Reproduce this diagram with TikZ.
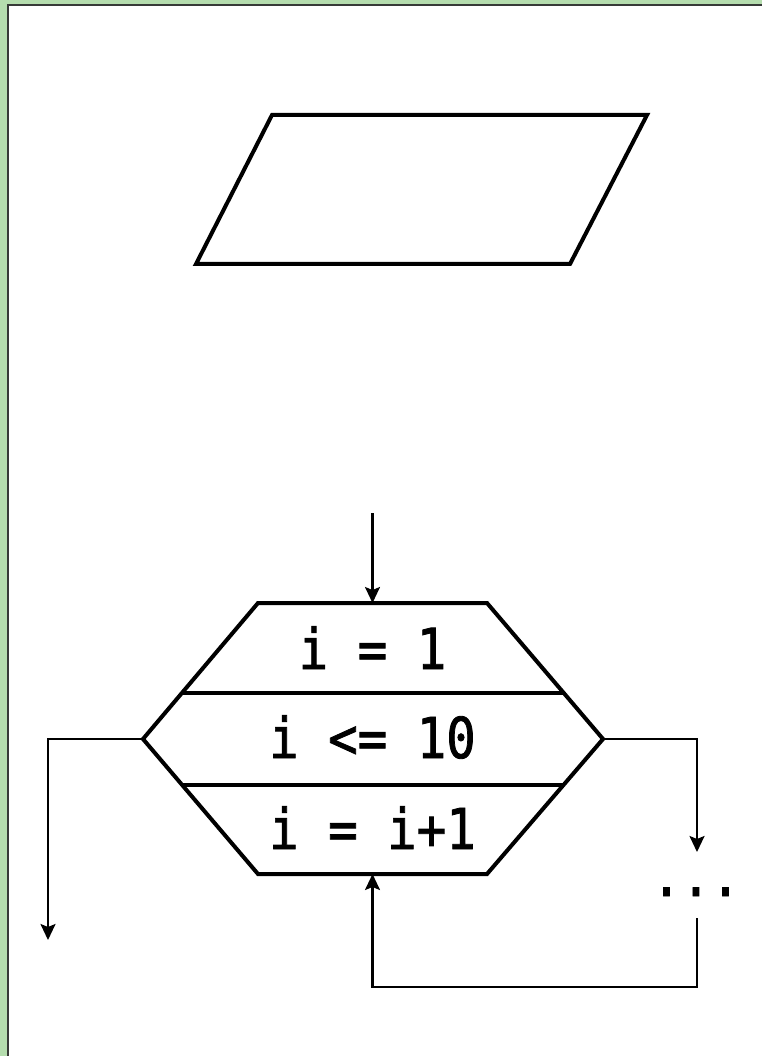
\documentclass[tikz,border=0pt]{standalone}
\usepackage{fontspec}
\usepackage{graphicx}
\newfontfamily\codefont[FakeBold=1.5]{DejaVu Sans Mono}
\usetikzlibrary{arrows.meta,calc}
\definecolor{bggreen}{RGB}{181,221,174}
\definecolor{edgegray}{RGB}{55,58,55}
\tikzset{
  shapeline/.style={line width=4pt, line join=miter},
  conn/.style={line width=2.2pt},
  arr/.style={conn, -{Stealth[length=16pt,width=15pt,inset=3pt]}},
  codetext/.style={anchor=base, inner sep=0pt, font=\codefont\fontsize{49}{49}\selectfont}
}
\newcommand{\tallt}[1]{\scalebox{1}[1.15]{#1}}
\begin{document}
\begin{tikzpicture}[x=1pt,y=-1pt]
\useasboundingbox (0,0) rectangle (762,1056);
% background
\fill[bggreen] (0,0) rectangle (762,1056);
\fill[white] (8,5) rectangle (762,1056);
\draw[edgegray, line width=2pt] (8,1056) -- (8,5) -- (762,5);
% parallelogram
\coordinate (pTL) at (272,115);
\coordinate (pTR) at (647,115);
\coordinate (pBR) at (570,264);
\coordinate (pBL) at (196,264);
\draw[shapeline] (pTL) -- (pTR) -- (pBR) -- (pBL) -- cycle;
% hexagon
\coordinate (hT) at (372.5,603);
\coordinate (hB) at (372.5,874);
\coordinate (hL) at (143,739);
\coordinate (hR) at (603,739);
\coordinate (hTL) at (258,603);
\coordinate (hTR) at (487,603);
\coordinate (hBL) at (258,874);
\coordinate (hBR) at (487,874);
\draw[shapeline] (hTL) -- (hTR) -- (hR) -- (hBR) -- (hBL) -- (hL) -- cycle;
\draw[shapeline] ($(hTL)!0.66!(hL)$) -- ($(hTR)!0.66!(hR)$);
\draw[shapeline] ($(hBL)!0.66!(hL)$) -- ($(hBR)!0.66!(hR)$);
% texts
\node[codetext] (init) at (372.5,669) {\tallt{i = 1}};
\node[codetext] (cond) at (372.5,758) {\tallt{i <= 10}};
\node[codetext] (incr) at (372.5,849) {\tallt{i = i+1}};
\node[codetext] (dots) at (696,896) {\tallt{...}};
% connectors
\coordinate (topStart) at (372.5,513);
\coordinate (leftEnd) at (48,940);
\coordinate (dotsTop) at (697,852);
\coordinate (dotsBot) at (697,918);
\coordinate (loopC) at (372.5,987);
\draw[arr] (topStart) -- (hT);
\draw[arr] (hL) -| (leftEnd);
\draw[arr] (hR) -| (dotsTop);
\draw[arr] (dotsBot) |- (loopC) -- (hB);
\end{tikzpicture}
\end{document}
